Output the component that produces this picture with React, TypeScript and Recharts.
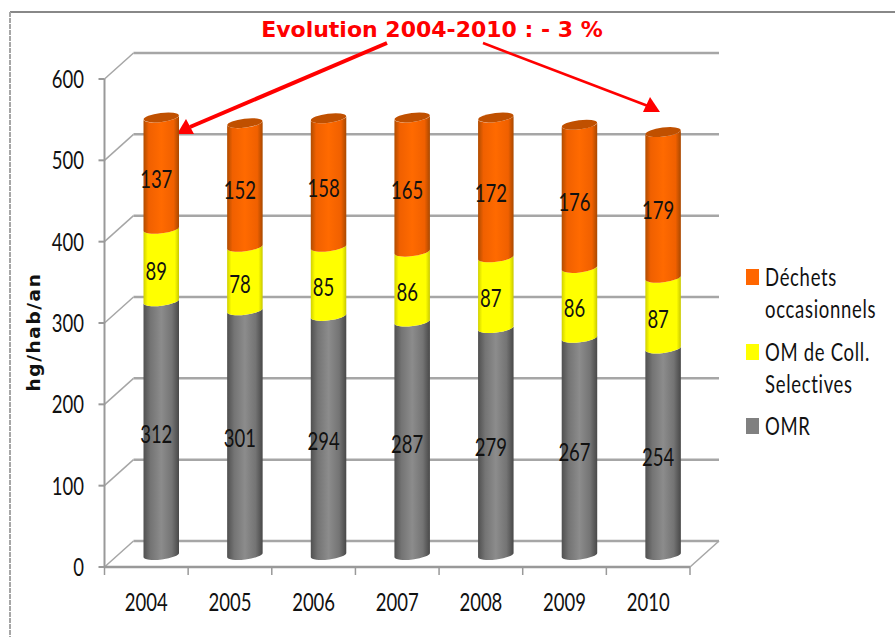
import React from 'react';
import { BarChart, Bar, XAxis, YAxis, CartesianGrid, LabelList } from 'recharts';

const years = ['2004', '2005', '2006', '2007', '2008', '2009', '2010'];
const omr = [312, 301, 294, 287, 279, 267, 254];
const collecte = [89, 78, 85, 86, 87, 86, 87];
const occasionnels = [137, 152, 158, 165, 172, 176, 179];
const yTicks = [0, 100, 200, 300, 400, 500, 600];
const data = years.map((year, i) => ({ year, omr: omr[i], collecte: collecte[i], occasionnels: occasionnels[i] }));

const legendItems = [
  { color: '#FF6600', lines: ['Déchets', 'occasionnels'], y: 277 },
  { color: '#FFFF00', lines: ['OM de Coll.', 'Selectives'], y: 352 },
  { color: '#808080', lines: ['OMR'], y: 426 },
];

const W = 895, H = 637;
const DX = 29, DY = 26;          // back wall offset
const BAR_DX = 15, BAR_DY = 12;  // cylinder offset
const AXIS = '#999999';

// The reference's Calibri-like text is stretched vertically
const Tall = ({ x, y, anchor = 'middle', spacing = 0, children }: any) => (
  <text transform={`translate(${x} ${y}) scale(1 1.3)`} textAnchor={anchor} dominantBaseline="central"
    fontFamily='Lato, sans-serif' fontSize={18.5} letterSpacing={spacing} fill="#111">{children}</text>
);

const cyl = (gradient: string, cap?: string) => (p: any) => {
  const x = p.x + BAR_DX, w = p.width, top = p.y - BAR_DY, bot = p.y + p.height - BAR_DY;
  const rx = w / 2, ry = 4.5, tilt = 2.2;
  const d = `M${x},${top + tilt} A${rx},${ry} -7 0 0 ${x + w},${top - tilt} L${x + w},${bot - tilt} A${rx},${ry} -7 0 1 ${x},${bot + tilt} Z`;
  return (
    <g>
      <path d={d} fill={`url(#${gradient})`} />
      {cap && <ellipse cx={x + w / 2} cy={top} rx={rx} ry={ry} transform={`rotate(-7 ${x + w / 2} ${top})`} fill={cap} />}
    </g>
  );
};

const dataLabel = (p: any) => (
  <Tall x={p.x + p.width / 2 + 10} y={p.y + p.height / 2 - BAR_DY + 5.5}>{p.value}</Tall>
);

const gridLine = (p: any) => (
  <g key={p.key ?? p.y1}>
    <line x1={p.x1} y1={p.y1} x2={p.x1 + DX} y2={p.y1 - DY} stroke="#a6a6a6" strokeWidth={1.5} />
    <line x1={p.x1 + DX} y1={p.y1 - DY} x2={p.x2 + DX} y2={p.y1 - DY} stroke="#a6a6a6" strokeWidth={2.5} />
    {p.y1 > 500 && <line x1={p.x2} y1={p.y1} x2={p.x2 + DX} y2={p.y1 - DY} stroke="#a6a6a6" strokeWidth={1.5} />}
  </g>
);

const XTick = (p: any) => {
  const step = p.width / years.length;
  const left = p.x - step / 2;
  return (
    <g>
      <line x1={left} y1={p.y - 8} x2={left} y2={p.y} stroke={AXIS} strokeWidth={1.5} />
      {p.index === years.length - 1 && <line x1={left + step} y1={p.y - 8} x2={left + step} y2={p.y} stroke={AXIS} strokeWidth={1.5} />}
      <Tall x={p.x} y={602}>{p.payload.value}</Tall>
    </g>
  );
};

const YTick = (p: any) => <Tall x={84} y={p.y} anchor="end">{p.payload.value}</Tall>;

const LegendBox = () => (
  <svg width={W} height={H} style={{ position: 'absolute', left: 0, top: 0, pointerEvents: 'none' }}>
    {legendItems.map((it) => (
      <g key={it.y}>
        <rect x={746} y={it.y - 8} width={13} height={16} fill={it.color} />
        {it.lines.map((t, i) => (
          <Tall key={t} x={765} y={it.y + i * 32} anchor="start" spacing={0.7}>{t}</Tall>
        ))}
      </g>
    ))}
  </svg>
);

export default function App() {
  return (
    <div style={{ position: 'absolute', left: 0, top: 0, width: W, height: H, background: '#fff' }}>
      <BarChart width={W} height={H} data={data} barSize={35.5} margin={{ top: 79, right: 205, bottom: 0, left: 0 }}>
        <defs>
          <linearGradient id="gOrange" x1="0" x2="1" y1="0" y2="0">
            <stop offset="0" stopColor="#B04C00" />
            <stop offset="0.15" stopColor="#F06000" />
            <stop offset="0.5" stopColor="#FF6A00" />
            <stop offset="0.85" stopColor="#F06000" />
            <stop offset="1" stopColor="#A84800" />
          </linearGradient>
          <linearGradient id="gYellow" x1="0" x2="1" y1="0" y2="0">
            <stop offset="0" stopColor="#D0D000" />
            <stop offset="0.12" stopColor="#FFFF00" />
            <stop offset="0.88" stopColor="#FFFF00" />
            <stop offset="1" stopColor="#C8C800" />
          </linearGradient>
          <linearGradient id="gGrey" x1="0" x2="1" y1="0" y2="0">
            <stop offset="0" stopColor="#505050" />
            <stop offset="0.2" stopColor="#747474" />
            <stop offset="0.5" stopColor="#8C8C8C" />
            <stop offset="0.8" stopColor="#747474" />
            <stop offset="1" stopColor="#484848" />
          </linearGradient>
        </defs>
        <line x1={10} y1={12} x2={895} y2={12} stroke="#888" strokeWidth={2} />
        <line x1={10} y1={12} x2={10} y2={637} stroke="#a6a6a6" strokeWidth={2} strokeDasharray="5 1" />
        <CartesianGrid vertical={false} horizontal={gridLine} syncWithTicks />
        <XAxis dataKey="year" height={70} axisLine={{ stroke: AXIS, strokeWidth: 2.5 }} tickLine={false}
          tick={<XTick width={585.5} />} interval={0} />
        <YAxis width={104.5} domain={[0, 600]} ticks={yTicks} axisLine={{ stroke: AXIS, strokeWidth: 2 }}
          tickLine={{ stroke: AXIS, strokeWidth: 2 }} tickSize={6} tick={<YTick />} interval={0} />
        <Bar dataKey="omr" stackId="a" isAnimationActive={false} shape={cyl('gGrey')}>
          <LabelList dataKey="omr" content={dataLabel} />
        </Bar>
        <Bar dataKey="collecte" stackId="a" isAnimationActive={false} shape={cyl('gYellow')}>
          <LabelList dataKey="collecte" content={dataLabel} />
        </Bar>
        <Bar dataKey="occasionnels" stackId="a" isAnimationActive={false} shape={cyl('gOrange', '#C05000')}>
          <LabelList dataKey="occasionnels" content={dataLabel} />
        </Bar>
        <text x={432} y={29} textAnchor="middle" dominantBaseline="central" fontFamily='"DejaVu Sans", sans-serif'
          fontWeight="bold" fontSize={22} fill="#FF0000">Evolution 2004-2010 : - 3 %</text>
        <text x={33} y={332} textAnchor="middle" dominantBaseline="central" transform="rotate(-90 33 332)"
          fontFamily='"DejaVu Sans", sans-serif' fontWeight="bold" fontSize={18.5} letterSpacing={1.6} fill="#111">hg/hab/an</text>
        <line x1={387} y1={43} x2={190} y2={127} stroke="#FF0000" strokeWidth={4} />
        <polygon points="177,134 186,119 194,134" fill="#FF0000" />
        <line x1={483} y1={43} x2={648} y2={106} stroke="#FF0000" strokeWidth={2.5} />
        <polygon points="660,112 643,112 650,97" fill="#FF0000" />
      </BarChart>
      <LegendBox />
    </div>
  );
}
